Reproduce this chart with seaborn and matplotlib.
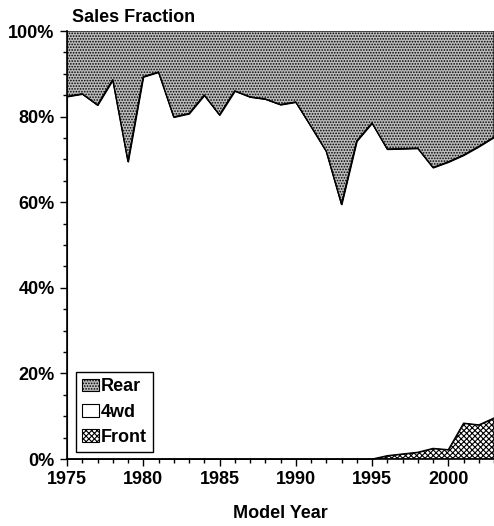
import numpy as np
import pandas as pd
import matplotlib
matplotlib.use("Agg")
import matplotlib.pyplot as plt
import seaborn as sns
from matplotlib.ticker import MultipleLocator, FuncFormatter
from matplotlib.patches import Patch

# ---- data ----
years = list(range(1975, 2004))
# upper edge of the 4wd band (= 100 - Rear), percent
top_edge = [84.7, 85.3, 82.7, 88.6, 69.5, 89.3, 90.4, 79.9, 80.7, 85.0,
            80.4, 86.0, 84.6, 84.1, 82.8, 83.4, 77.7, 71.9, 59.5, 74.3,
            78.5, 72.4, 72.5, 72.6, 68.1, 69.4, 71.0, 73.0, 75.2]
front = [0, 0, 0, 0, 0, 0, 0, 0, 0, 0,
         0, 0, 0, 0, 0, 0, 0, 0, 0, 0,
         0, 0.8, 1.2, 1.6, 2.5, 2.2, 8.4, 8.0, 9.6]
fwd4 = [t - f for t, f in zip(top_edge, front)]
rear = [100 - t for t in top_edge]
series_names = ["Rear", "4wd", "Front"]
y_ticks = [0, 20, 40, 60, 80, 100]
x_ticks = [1975, 1980, 1985, 1990, 1995, 2000]

df = pd.DataFrame({"year": years, "Front": front, "4wd": fwd4, "Rear": rear})
df["top"] = df["Front"] + df["4wd"]

sns.set_theme(style="ticks")
plt.rcParams["font.family"] = ["Liberation Sans", "DejaVu Sans"]
plt.rcParams["font.weight"] = "bold"
plt.rcParams["hatch.linewidth"] = 0.8

fig = plt.figure(figsize=(4.94, 5.26), dpi=100)
ax = fig.add_axes([67 / 494, (526 - 459) / 526, (494 - 67) / 494, (459 - 31) / 526])

rear_face = "#bcbcbc"
polys = ax.stackplot(df["year"], df["Front"], df["4wd"], df["Rear"],
                     colors=["white", "white", rear_face],
                     edgecolor="black", linewidth=0.8)
hatches = ["xxxxxx", None, "......"]
for p, h in zip(polys, hatches):
    if h:
        p.set_hatch(h)
    p.set_edgecolor("black")

sns.lineplot(data=df, x="year", y="top", ax=ax, color="black", linewidth=1.0, legend=False)
sns.lineplot(data=df, x="year", y="Front", ax=ax, color="black", linewidth=0.8, legend=False)

ax.set_xlim(1975, 2003)
ax.set_ylim(0, 100)
ax.xaxis.set_major_locator(MultipleLocator(5))
ax.xaxis.set_minor_locator(MultipleLocator(1))
ax.yaxis.set_major_locator(MultipleLocator(20))
ax.yaxis.set_minor_locator(MultipleLocator(5))
ax.set_xticks(x_ticks)
ax.set_yticks(y_ticks)
ax.yaxis.set_major_formatter(FuncFormatter(lambda v, p: f"{int(v)}%"))
ax.tick_params(axis="both", which="major", labelsize=13, length=5, width=1, color="black",
               pad=4, labelcolor="black")
ax.tick_params(axis="both", which="minor", length=3, width=1, color="black")
for lab in ax.get_xticklabels() + ax.get_yticklabels():
    lab.set_fontweight("bold")

for s in ["top", "right"]:
    ax.spines[s].set_visible(False)
for s in ["left", "bottom"]:
    ax.spines[s].set_color("black")
    ax.spines[s].set_linewidth(1.2)
ax.set_facecolor("white")

ax.set_xlabel("Model Year", fontsize=13, fontweight="bold", labelpad=12, color="black")
ax.set_ylabel("")
fig.text(72 / 494, 1 - 17 / 526, "Sales Fraction", fontsize=13, fontweight="bold",
         ha="left", va="center", color="black")

handles = [Patch(facecolor=rear_face, edgecolor="black", hatch="......", linewidth=0.8),
           Patch(facecolor="white", edgecolor="black", linewidth=0.8),
           Patch(facecolor="white", edgecolor="black", hatch="xxxxxx", linewidth=0.8)]
leg = ax.legend(handles, series_names, loc="lower left", bbox_to_anchor=(9 / 427, 7 / 428),
                borderaxespad=0, frameon=True, fancybox=False, framealpha=1,
                edgecolor="black", prop={"size": 13, "weight": "bold"},
                handlelength=0.9, handleheight=0.7, handletextpad=0.1,
                labelspacing=0.45, borderpad=0.35, labelcolor="black")
leg.get_frame().set_linewidth(1.0)

fig.savefig("out.png", dpi=100, facecolor="white")
